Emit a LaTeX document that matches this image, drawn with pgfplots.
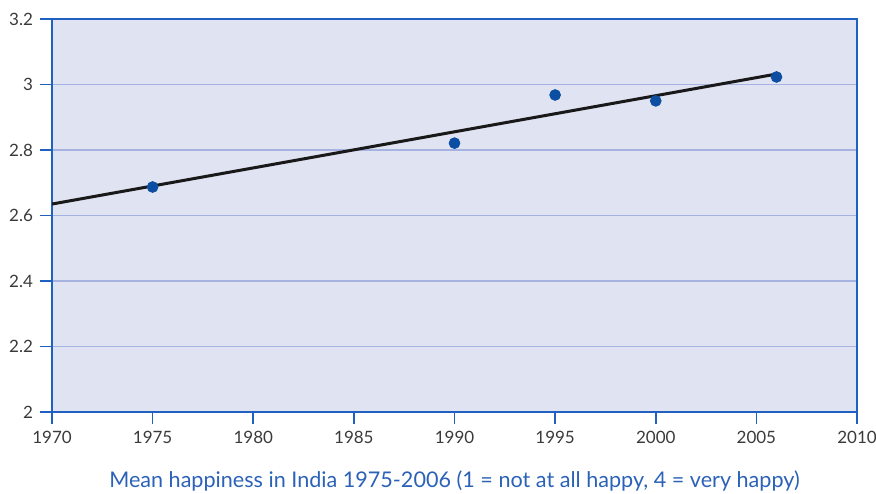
\documentclass[border=0pt]{standalone}
\usepackage{pgfplots}
\pgfplotsset{compat=1.18}
\usepackage{fontspec}
\setmainfont{Lato}
\definecolor{axblue}{HTML}{2060C0}
\definecolor{gridc}{HTML}{A6B2E0}
\definecolor{bgc}{HTML}{E0E3F2}
\definecolor{dotc}{HTML}{0B4EA2}
\definecolor{titlec}{HTML}{2B62B8}
\definecolor{tickc}{HTML}{3A3A3A}
\begin{document}
\begin{tikzpicture}
\begin{axis}[
  name=ax,
  scale only axis,
  width=402.5pt, height=196.5pt,
  xmin=1970, xmax=2010, ymin=2, ymax=3.2,
  xtick={1970,1975,...,2010},
  ytick={2,2.2,2.4,2.6,2.8,3,3.2},
  yticklabels={2,2.2,2.4,2.6,2.8,3,3.2},
  xticklabel style={/pgf/number format/1000 sep={}},
  /pgf/number format/assume math mode=true,
  tick align=outside,
  major tick length=6pt,
  xtick pos=bottom, ytick pos=left,
  ymajorgrids,
  grid style={gridc, line width=0.6pt},
  axis line style={axblue, line width=0.8pt},
  tick style={axblue, line width=0.8pt},
  axis background/.style={fill=bgc},
  tick label style={font=\fontsize{8.5pt}{10pt}\selectfont, text=tickc},
  xlabel={Mean happiness in India 1975-2006 (1 = not at all happy, 4 = very happy)},
  xlabel style={font=\fontsize{10.8pt}{13pt}\selectfont, text=titlec, at={(axis description cs:0.5,0)}, anchor=center, yshift=-34.5pt},
]
\addplot[color=black!90, line width=1.5pt] coordinates {(1970,2.635) (2006,3.032)};
\addplot[only marks, mark=*, mark size=2.7pt, color=dotc] coordinates {
 (1975,2.687) (1990,2.821) (1995,2.968) (2000,2.950) (2006,3.023)};
\end{axis}
\pgfresetboundingbox
\path ([shift={(-26pt,-40.5pt)}]ax.south west) rectangle ([shift={(9.5pt,9.5pt)}]ax.north east);
\end{tikzpicture}
\end{document}
